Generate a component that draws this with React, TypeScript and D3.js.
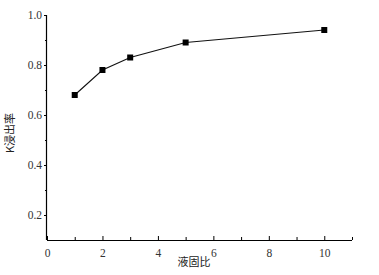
import { useEffect, useRef } from "react";
import * as d3 from "d3";

const ratios = [1, 2, 3, 5, 10];
const yields = [0.68, 0.78, 0.83, 0.89, 0.94];
const xTicks = [0, 2, 4, 6, 8, 10];
const xMinor = [1, 3, 5, 7, 9, 11];
const yTicks = [0.2, 0.4, 0.6, 0.8, 1.0];
const yMinor = [0.3, 0.5, 0.7, 0.9];

export default function App() {
  const svgRef = useRef<SVGSVGElement>(null);

  useEffect(() => {
    if (!svgRef.current) return;
    const svg = d3.select(svgRef.current);
    svg.selectAll("*").remove();

    const x = d3.scaleLinear().domain([0, 11]).range([47, 352]);
    const y = d3.scaleLinear().domain([0.1, 1.0]).range([240, 15]);
    const serif = "Liberation Serif, Times New Roman, serif";
    const cjk = "Noto Sans CJK SC, sans-serif";

    svg.append("rect").attr("width", 379).attr("height", 275).attr("fill", "#fff");

    // bottom axis, ticks pointing inward
    const xAxis = svg.append("g").attr("transform", `translate(0,${y(0.1)})`);
    xAxis.call(d3.axisBottom(x).tickValues(xTicks).tickSize(-4).tickPadding(9).tickFormat(d3.format("d")));
    xAxis.attr("font-family", serif).attr("font-size", 11.5);
    xAxis.selectAll("line.minor")
      .data(xMinor)
      .join("line")
      .attr("class", "minor")
      .attr("x1", (d) => x(d) + 0.5)
      .attr("x2", (d) => x(d) + 0.5)
      .attr("y1", 0)
      .attr("y2", -3)
      .attr("stroke", "#000");
    xAxis.select(".domain").attr("d", `M${x(0)},0.5H${x(11)}`).attr("stroke-width", 1.2);
    xAxis.selectAll(".tick text").attr("fill", "#333");

    // left axis, ticks outward
    const yAxis = svg.append("g").attr("transform", `translate(${x(0)},0)`);
    yAxis.call(d3.axisLeft(y).tickValues(yTicks).tickSize(3).tickPadding(2).tickFormat(d3.format(".1f")));
    yAxis.attr("font-family", serif).attr("font-size", 11.5);
    yAxis.select(".domain").attr("d", `M-0.5,${y(1.0)}V${y(0.1)}`).attr("stroke-width", 1.2);
    yAxis.selectAll(".tick text").attr("fill", "#333");
    yAxis.selectAll("line.minor")
      .data(yMinor)
      .join("line")
      .attr("class", "minor")
      .attr("x1", 0)
      .attr("x2", -2)
      .attr("y1", (d) => y(d) + 0.5)
      .attr("y2", (d) => y(d) + 0.5)
      .attr("stroke", "#000");

    const pts = ratios.map((r, i) => [r, yields[i]] as [number, number]);
    const line = d3.line<[number, number]>().x((d) => x(d[0])).y((d) => y(d[1]));
    svg.append("path").attr("d", line(pts)).attr("fill", "none").attr("stroke", "#111").attr("stroke-width", 1.1);

    svg.selectAll("rect.pt")
      .data(pts)
      .join("rect")
      .attr("class", "pt")
      .attr("x", (d) => x(d[0]) - 3)
      .attr("y", (d) => y(d[1]) - 3)
      .attr("width", 6)
      .attr("height", 6)
      .attr("fill", "#000");

    svg.append("text")
      .attr("x", 194)
      .attr("y", 266)
      .attr("text-anchor", "middle")
      .attr("font-family", cjk)
      .attr("font-size", 11)
      .attr("fill", "#222")
      .text("液固比");

    svg.append("text")
      .attr("transform", `translate(14,133) rotate(-90)`)
      .attr("text-anchor", "middle")
      .attr("font-family", cjk)
      .attr("font-size", 11)
      .attr("fill", "#222")
      .text("K浸出率");
  }, []);

  return (
    <svg
      ref={svgRef}
      width={379}
      height={275}
      style={{ position: "absolute", left: 0, top: 0 }}
    />
  );
}
